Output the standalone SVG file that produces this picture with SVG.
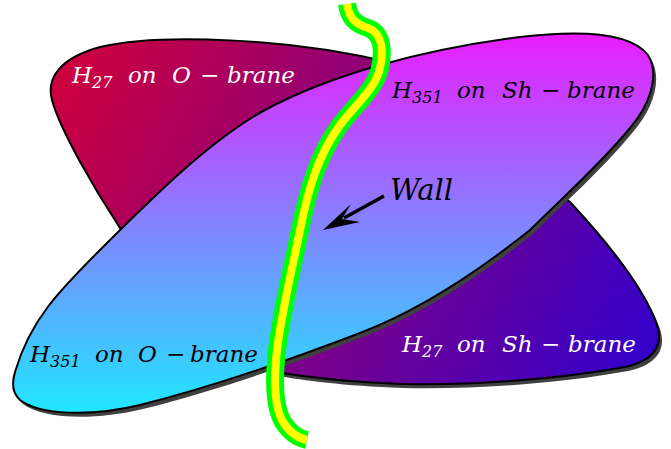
<svg xmlns="http://www.w3.org/2000/svg" width="671" height="449" viewBox="0 0 671 449">
  <style>
    .shadow { fill: #404040; }
    .edge { stroke: #000; stroke-width: 2; stroke-linejoin: round; }
    .lbl { font-family: 'DejaVu Serif', serif; font-style: italic; font-size: 23px; }
    .sub { font-size: 16px; }
    .op { font-style: normal; }
    .tube-out { fill: none; stroke: #00ff00; stroke-width: 18; stroke-linecap: butt; stroke-linejoin: round; }
    .tube-in { fill: none; stroke: #ffff00; stroke-width: 8; stroke-linecap: butt; stroke-linejoin: round; }
  </style>
  <defs>
    <linearGradient id="gBack" gradientUnits="userSpaceOnUse" x1="50" y1="50" x2="650" y2="370">
      <stop offset="0" stop-color="#d2003a"/>
      <stop offset="1" stop-color="#3200cc"/>
    </linearGradient>
    <linearGradient id="gFront" gradientUnits="userSpaceOnUse" x1="0" y1="35" x2="0" y2="415">
      <stop offset="0" stop-color="#e81eff"/>
      <stop offset="1" stop-color="#1ee8ff"/>
    </linearGradient>
    <path id="backShape" d="M 120,228 C 95,190 60,130 52,100 C 46,78 60,58 100,47 C 160,33 290,38 392,63 L 570,202 C 610,245 645,290 657,325 C 665,350 648,362 625,367 C 560,379 470,386 400,384 C 340,382 300,376 275,372 Z"/>
    <path id="frontShape" d="M 15,372 C 30,320 60,290 100,250 C 150,200 210,140 265,110 C 330,75 420,50 520,37 C 580,30 630,32 648,55 C 660,75 650,105 630,128 C 600,165 560,200 530,230 C 480,270 420,310 360,333 C 300,356 220,385 140,405 C 90,417 40,415 20,400 C 12,393 12,382 15,372 Z"/>
    <path id="wallPath" d="M 347,4 C 349,18 355,24 368,28 C 382,33 384,50 380,68 C 376,88 355,105 340,125 C 318,155 308,190 300,230 C 292,270 282,310 277,350 C 273,385 275,408 283,422 C 290,433 297,438 307,440"/>
  </defs>

  <g id="back-brane">
    <use href="#backShape" class="shadow" transform="translate(3,4)"/>
    <use href="#backShape" class="edge" fill="url(#gBack)"/>
  </g>

  <g id="front-brane">
    <use href="#frontShape" class="shadow" transform="translate(3,4)"/>
    <use href="#frontShape" class="edge" fill="url(#gFront)"/>
  </g>

  <g id="wall">
    <use href="#wallPath" class="tube-out"/>
    <use href="#wallPath" class="tube-in"/>
  </g>

  <g id="label-h27-o">
    <text class="lbl" fill="#ffffff"><tspan x="72" y="83">H</tspan><tspan class="sub" dy="5">27</tspan><tspan x="128" y="83">on</tspan><tspan x="172">O</tspan><tspan class="op" x="200">−</tspan><tspan x="227">brane</tspan></text>
  </g>
  <g id="label-h351-sh">
    <text class="lbl" fill="#000000"><tspan x="392" y="98">H</tspan><tspan class="sub" dy="5">351</tspan><tspan x="457" y="98">on</tspan><tspan x="502">Sh</tspan><tspan class="op" x="541">−</tspan><tspan x="567">brane</tspan></text>
  </g>
  <g id="label-h351-o">
    <text class="lbl" fill="#000000"><tspan x="30" y="362">H</tspan><tspan class="sub" dy="5">351</tspan><tspan x="95" y="362">on</tspan><tspan x="138">O</tspan><tspan class="op" x="166">−</tspan><tspan x="190">brane</tspan></text>
  </g>
  <g id="label-h27-sh">
    <text class="lbl" fill="#ffffff"><tspan x="402" y="352">H</tspan><tspan class="sub" dy="5">27</tspan><tspan x="457" y="352">on</tspan><tspan x="502">Sh</tspan><tspan class="op" x="541">−</tspan><tspan x="568">brane</tspan></text>
  </g>

  <g id="label-wall">
    <text class="lbl" x="390" y="200" style="font-size:29px" fill="#000000">Wall</text>
  </g>

  <g id="connectors">
    <line x1="384" y1="196" x2="344" y2="218" stroke="#000" stroke-width="3.5"/>
    <path d="M 323,230 L 351,204 L 342,219 L 360,222 Z" fill="#000"/>
  </g>
</svg>
